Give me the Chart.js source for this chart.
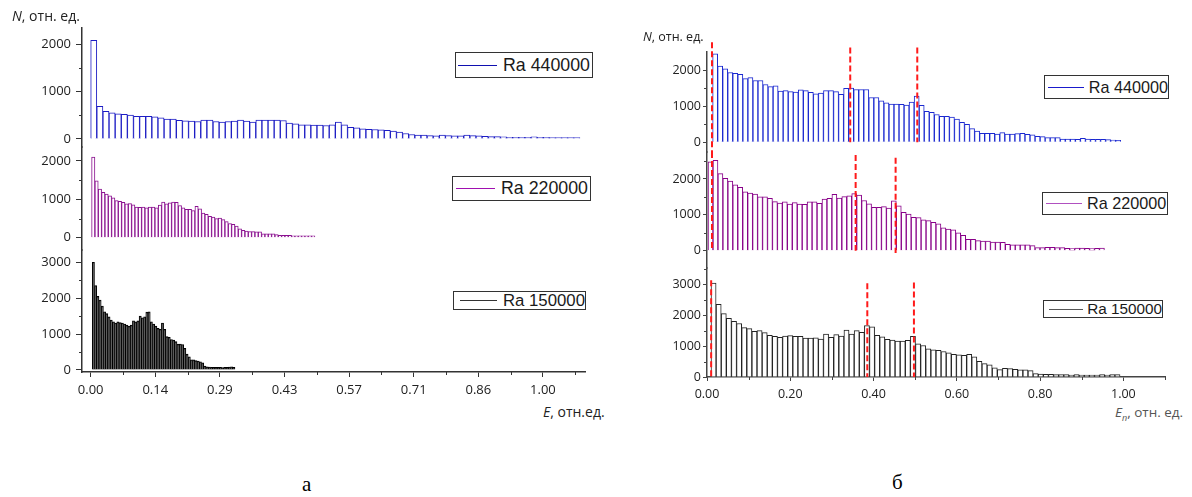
<!DOCTYPE html>
<html lang="ru">
<head>
<meta charset="UTF-8">
<title>Histograms</title>
<script src="https://cdn.jsdelivr.net/npm/chart.js"></script>
<style>
body { margin: 0; background: #fff; }
#wrap { position: relative; width: 1192px; height: 497px; overflow: hidden; }
.cv { position: absolute; top: 0; }
.lg { position: absolute; border: 1px solid #333; box-sizing: border-box; background: #fff;
      display: flex; align-items: center; font-family: 'Liberation Sans', Arial, sans-serif; color: #1a1a1a; white-space: nowrap; }
.ln { display: inline-block; height: 1px; }
.tt { position: absolute; font-family: 'Open Sans', sans-serif; line-height: 18px; color: #222; white-space: nowrap; }
.cap { position: absolute; font-family: 'Liberation Serif', serif; font-size: 21px; color: #000; }
</style>
</head>
<body>
<div id="wrap">
  <canvas id="left" class="cv" style="left:0" width="600" height="400"></canvas>
  <canvas id="right" class="cv" style="left:600px" width="592" height="400"></canvas>

  <div class="tt" style="left:12px;top:7px;font-size:14px"><i>N</i>, отн. ед.</div>
  <div class="tt" style="left:543px;top:403px;font-size:14px"><i>E</i>, отн.ед.</div>
  <div class="tt" style="left:643px;top:28px;font-size:12.5px"><i>N</i>, отн. ед.</div>
  <div class="tt" style="left:1115px;top:403px;font-size:13.5px;color:#555"><i>E<sub style="font-size:9px">n</sub></i>, отн. ед.</div>

  <div class="lg" style="left:455px;top:52px;width:138px;height:26px;font-size:17.8px">
    <span class="ln" style="margin-left:2px;width:39px;background:#1010b0"></span><span style="margin-left:6px">Ra 440000</span></div>
  <div class="lg" style="left:452px;top:176px;width:139px;height:25px;font-size:17.8px">
    <span class="ln" style="margin-left:3px;width:39px;background:#a010b0"></span><span style="margin-left:6px">Ra 220000</span></div>
  <div class="lg" style="left:453px;top:291px;width:133px;height:19px;font-size:16.8px">
    <span class="ln" style="margin-left:6px;width:37px;background:#333"></span><span style="margin-left:6px">Ra 150000</span></div>

  <div class="lg" style="left:1044px;top:75px;width:125px;height:24px;font-size:16.2px">
    <span class="ln" style="margin-left:3px;width:36px;background:#1a1acc"></span><span style="margin-left:5px">Ra 440000</span></div>
  <div class="lg" style="left:1042px;top:192px;width:126px;height:23px;font-size:16.2px">
    <span class="ln" style="margin-left:3px;width:36px;background:#b050c0"></span><span style="margin-left:5px">Ra 220000</span></div>
  <div class="lg" style="left:1043px;top:300px;width:120px;height:18px;font-size:15.3px">
    <span class="ln" style="margin-left:5px;width:35px;background:#555"></span><span style="margin-left:4px">Ra 150000</span></div>

  <div class="cap" style="left:302px;top:472px">а</div>
  <div class="cap" style="left:892px;top:470px">б</div>
</div>

<script>
// ---- data: histogram counts (N) per bin ----
// panel a: E, bins start at binStart, width binWidth
const LEFT_TOP = [2080, 690, 585, 550, 530, 520, 505, 480, 480, 480, 465, 445, 420, 420, 395, 385, 380, 370, 400, 400,
    370, 355, 370, 380, 400, 380, 355, 400, 400, 400, 400,
    390, 336, 320, 300, 300, 295, 295, 285, 300, 355, 300, 245, 235, 215, 205, 200, 195, 185, 165, 145,
    115, 95, 80, 80, 70, 65, 80, 70, 65, 65, 80, 70, 65, 55, 50, 50, 45, 35, 35, 35, 35, 45, 35, 35, 30, 30, 30, 30, 30];
const LEFT_MID = [2100, 1480, 1270, 1180, 1140, 1090, 1040, 970, 950, 920, 880, 890, 860, 800, 790, 800, 780, 800, 800, 780,
    850, 930, 880, 910, 930, 920, 840, 780, 740, 740, 710, 820, 750, 640, 610, 560, 540, 500, 510, 470,
    420, 370, 350, 300, 230, 190, 170, 160, 160, 150, 150, 100, 100, 100, 100, 80, 60, 60, 60, 60,
    50, 50, 50, 50, 50, 50, 50];
const LEFT_BOT = [3000, 2350, 2050, 1950, 1780, 1620, 1570, 1480, 1390, 1340, 1310, 1340, 1320, 1310, 1280, 1250, 1220, 1250, 1370, 1340,
    1370, 1500, 1450, 1480, 1610, 1620, 1340, 1280, 1220, 1160, 1130, 1310, 1130, 930, 910, 850, 830, 790, 720, 720,
    710, 600, 440, 370, 280, 280, 260, 250, 230, 200, 110, 90, 80, 75, 75, 75, 75, 75, 65, 75, 75, 80, 90, 75];

// panel б: E_n
const RIGHT_TOP = [2450, 2110, 2030, 1930, 1910, 1880, 1760, 1790, 1710, 1710, 1600, 1540, 1560, 1420, 1430, 1400, 1390, 1450, 1430, 1380,
    1340, 1360, 1430, 1430, 1400, 1330, 1490, 1500, 1460, 1460, 1460, 1240, 1240, 1150, 1090, 1060, 1060, 1050, 1030, 1110, 1280,
    1020, 860, 830, 770, 720, 720, 700, 640, 550, 500, 380, 310, 250, 250, 250, 230, 270, 230, 230, 240,
    250, 220, 210, 165, 156, 128, 128, 128, 92, 92, 92, 83, 110, 92, 83, 83, 83, 73, 64, 55];
const RIGHT_MID = [2480, 2520, 2150, 2020, 1940, 1840, 1770, 1640, 1610, 1580, 1500, 1500, 1460, 1370, 1330, 1360, 1300, 1340, 1300, 1290,
    1360, 1360, 1320, 1440, 1460, 1570, 1470, 1510, 1530, 1590, 1550, 1400, 1310, 1210, 1210, 1230, 1190, 1390, 1250, 1070, 1020, 930,
    925, 860, 840, 790, 750, 640, 600, 580, 500, 430, 320, 320, 280, 270, 270, 240, 240, 235, 180, 160,
    160, 160, 160, 140, 85, 85, 95, 95, 85, 85, 65, 56, 75, 75, 65, 56, 65, 75];
const RIGHT_BOT = [3040, 2350, 2050, 1900, 1800, 1730, 1600, 1565, 1480, 1500, 1435, 1350, 1315, 1280, 1325, 1340, 1315, 1315, 1260, 1260,
    1270, 1230, 1390, 1280, 1370, 1325, 1520, 1390, 1500, 1445, 1660, 1620, 1350, 1300, 1220, 1195, 1160, 1160, 1185, 1320, 1075,
    1020, 910, 880, 860, 825, 780, 730, 720, 705, 730, 650, 510, 435, 390, 293, 240, 283, 272, 250,
    228, 228, 207, 109, 98, 87, 87, 76, 76, 76, 65, 76, 65, 65, 65, 65, 76, 65, 76, 76];

// bins: [start, width]
const BINS = {
    leftTop: [0.0, 0.013523], leftMid: [0.002, 0.00737], leftBot: [0.0035, 0.00493],
    rightTop: [0.0135, 0.0121], rightMid: [0.0025, 0.0119], rightBot: [0.0096, 0.01228]
};

// tick labels
const LEFT_X_TICKS = [0, 1 / 7, 2 / 7, 3 / 7, 4 / 7, 5 / 7, 6 / 7, 1];
const RIGHT_X_TICKS = [0, 0.2, 0.4, 0.6, 0.8, 1.0];
const Y_TICKS_2000 = [0, 1000, 2000];
const Y_TICKS_3000 = [0, 1000, 2000, 3000];

// red dashed markers on panel б: [E_n, N from, N to]
const MARK_TOP = [[0.012, 2770, -268], [0.344, 2620, 0], [0.505, 2620, 0]];
const MARK_MID = [[0.012, 2753, 0], [0.357, 2670, 0], [0.453, 2590, -65]];
const MARK_BOT = [[0.010, 3130, 0], [0.385, 3030, 0], [0.497, 3060, 0]];

Chart.defaults.font.family = "'Open Sans', sans-serif";
Chart.defaults.color = '#222';

function toPoints(vals, bin) {
    return vals.map((v, i) => ({ x: bin[0] + (i + 0.5) * bin[1], y: v }));
}

function barSet(vals, bin, xId, yId, color, fill) {
    return {
        data: toPoints(vals, bin), xAxisID: xId, yAxisID: yId,
        backgroundColor: fill || '#fff', borderColor: color, borderWidth: 1,
        grouped: false, barPercentage: 1, categoryPercentage: 1
    };
}

// short ticks half-way between the labelled ones
const minorTicks = {
    id: 'minorTicks',
    afterDraw(chart, args, opts) {
        const ctx = chart.ctx;
        ctx.save();
        ctx.strokeStyle = opts.color;
        ctx.lineWidth = 1;
        ctx.beginPath();
        Object.values(chart.scales).forEach(s => {
            if (!s.options.display) return;
            const t = s.ticks.map(k => k.value);
            if (t.length < 2) return;
            const step = t[1] - t[0];
            t.forEach(v => {
                const m = v + step / 2;
                if (m > s.max + 1e-9) return;
                const p = Math.round(s.getPixelForValue(m)) + 0.5;
                if (s.isHorizontal()) { ctx.moveTo(p, s.top); ctx.lineTo(p, s.top + opts.len); }
                else { ctx.moveTo(s.right, p); ctx.lineTo(s.right - opts.len, p); }
            });
        });
        ctx.stroke();
        ctx.restore();
    }
};

const redMarks = {
    id: 'redMarks',
    afterDatasetsDraw(chart, args, opts) {
        if (!opts.sets) return;
        const ctx = chart.ctx, xs = chart.scales.x;
        ctx.save();
        ctx.strokeStyle = '#ff1a1a';
        ctx.lineWidth = 2;
        ctx.setLineDash([6, 3]);
        opts.sets.forEach(([yId, marks]) => {
            const ys = chart.scales[yId];
            marks.forEach(([x, a, b]) => {
                const px = xs.getPixelForValue(x);
                ctx.beginPath();
                ctx.moveTo(px, ys.getPixelForValue(a));
                ctx.lineTo(px, ys.getPixelForValue(b));
                ctx.stroke();
            });
        });
        ctx.restore();
    }
};

function yScale(min, max, ticks, weight, width, tl, pad, size, col) {
    return {
        type: 'linear', position: 'left', stack: 'n', stackWeight: weight, min: min, max: max,
        afterBuildTicks: s => { s.ticks = ticks.map(v => ({ value: v })); },
        afterFit: s => { s.width = width; },
        border: { color: col, width: 1.5 },
        grid: { drawOnChartArea: false, tickLength: tl, color: col, tickWidth: 1 },
        ticks: { padding: pad, font: { size: size }, callback: v => String(v) }
    };
}

function xScale(min, max, ticks, height, tl, pad, size, col) {
    return {
        type: 'linear', position: 'bottom', min: min, max: max, offset: false,
        afterBuildTicks: s => { s.ticks = ticks.map(v => ({ value: v })); },
        afterFit: s => { s.height = height; },
        border: { color: col, width: 1.5 },
        grid: { drawOnChartArea: false, offset: false, tickLength: tl, color: col },
        ticks: { padding: pad, font: { size: size }, maxRotation: 0, autoSkip: false, callback: v => v.toFixed(2) }
    };
}

function hiddenX(min, max) {
    return { type: 'linear', display: false, min: min, max: max, offset: false, grid: { offset: false } };
}

new Chart(document.getElementById('left'), {
    type: 'bar',
    data: {
        datasets: [
            barSet(LEFT_TOP, BINS.leftTop, 'x', 'yTop', '#1c1cc4'),
            barSet(LEFT_MID, BINS.leftMid, 'x2', 'yMid', '#8a108f'),
            barSet(LEFT_BOT, BINS.leftBot, 'x3', 'yBot', '#000', '#555')
        ]
    },
    options: {
        responsive: false, animation: false,
        layout: { padding: { top: 28, right: 15, left: 0, bottom: 0 } },
        plugins: { legend: { display: false }, tooltip: { enabled: false }, minorTicks: { color: '#333', len: 3 } },
        scales: {
            x: xScale(-0.0192, 1.093, LEFT_X_TICKS, 28, 5, 5, 13, '#333'),
            x2: hiddenX(-0.0192, 1.093),
            x3: hiddenX(-0.0192, 1.093),
            yBot: yScale(-56, 3343, Y_TICKS_3000, 122, 82, 6, 5, 13, '#333'),
            yMid: yScale(-321, 2365, Y_TICKS_2000, 103, 82, 6, 5, 13, '#333'),
            yTop: yScale(-169, 2342, Y_TICKS_2000, 119, 82, 6, 5, 13, '#333')
        }
    },
    plugins: [minorTicks]
});

new Chart(document.getElementById('right'), {
    type: 'bar',
    data: {
        datasets: [
            barSet(RIGHT_TOP, BINS.rightTop, 'x', 'yTop', '#1a28d0'),
            barSet(RIGHT_MID, BINS.rightMid, 'x2', 'yMid', '#880088'),
            barSet(RIGHT_BOT, BINS.rightBot, 'x3', 'yBot', '#222')
        ]
    },
    options: {
        responsive: false, animation: false,
        layout: { padding: { top: 52, right: 27, left: 0, bottom: 0 } },
        plugins: {
            legend: { display: false }, tooltip: { enabled: false },
            minorTicks: { color: '#444', len: 3 },
            redMarks: { sets: [['yTop', MARK_TOP], ['yMid', MARK_MID], ['yBot', MARK_BOT]] }
        },
        scales: {
            x: xScale(0, 1.1, RIGHT_X_TICKS, 23, 4, 6, 12.5, '#444'),
            x2: hiddenX(0, 1.1),
            x3: hiddenX(0, 1.1),
            yBot: yScale(0, 3527, Y_TICKS_3000, 109, 107, 4, 2, 12.5, '#444'),
            yMid: yScale(-483, 2753, Y_TICKS_2000, 116, 107, 4, 2, 12.5, '#444'),
            yTop: yScale(-268, 2498, Y_TICKS_2000, 100, 107, 4, 2, 12.5, '#444')
        }
    },
    plugins: [minorTicks, redMarks]
});
</script>
</body>
</html>
